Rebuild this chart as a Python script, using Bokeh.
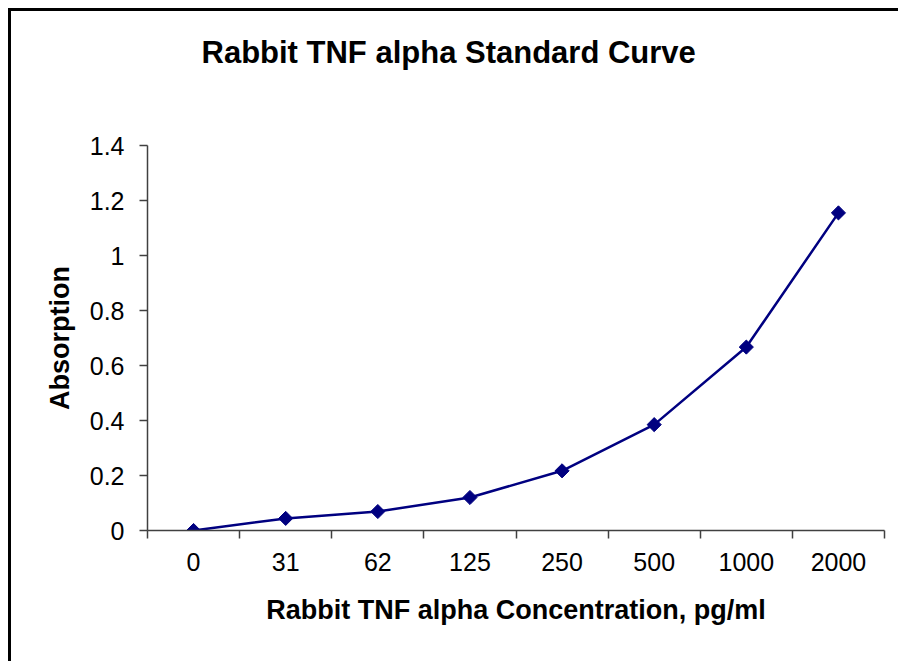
from bokeh.plotting import figure
from bokeh.models import FixedTicker, Range1d
from bokeh.embed import file_html
from bokeh.resources import INLINE

categories = ["0", "31", "62", "125", "250", "500", "1000", "2000"]
absorption = [0.0, 0.044, 0.069, 0.120, 0.217, 0.385, 0.667, 1.155]
y_ticks = [0, 0.2, 0.4, 0.6, 0.8, 1.0, 1.2, 1.4]
y_tick_labels = ["0", "0.2", "0.4", "0.6", "0.8", "1", "1.2", "1.4"]
title_text = "Rabbit TNF alpha Standard Curve"
x_label = "Rabbit TNF alpha Concentration, pg/ml"
y_label = "Absorption"

xs = [i + 0.5 for i in range(len(categories))]
FONT = "Liberation Sans"
AXIS_COLOR = "#404040"

p = figure(width=890, height=653, output_backend="svg", toolbar_location=None,
           x_range=Range1d(0, len(categories)), y_range=Range1d(0, 1.4),
           min_border_left=136, min_border_right=17, min_border_top=134,
           min_border_bottom=134)
p.margin = (8, 0, 0, 8)
p.styles = {"border-left": "3px solid black", "border-top": "3px solid black"}
p.xgrid.visible = False
p.ygrid.visible = False
p.outline_line_color = None
p.background_fill_color = "white"
p.border_fill_color = "white"

p.title.text = title_text
p.title.align = "left"
p.title.offset = 54
p.title.standoff = 10
p.title.padding = dict(left=0, right=0, top=0, bottom=71)
p.title.text_font = FONT
p.title.text_font_size = "31px"
p.title.text_font_style = "bold"
p.title.text_color = "black"

p.line(xs, absorption, line_color="#000080", line_width=2.5)
p.scatter(xs, absorption, marker="square", angle=0.785398, size=10,
          fill_color="#000080", line_color="#000080")

# x axis
xa = p.xaxis[0]
xa.ticker = FixedTicker(ticks=xs, minor_ticks=list(range(len(categories) + 1)))
xa.major_label_overrides = {x: c for x, c in zip(xs, categories)}
xa.major_tick_out = 0
xa.major_tick_in = 0
xa.minor_tick_out = 8
xa.minor_tick_in = 0
xa.minor_tick_line_color = AXIS_COLOR
xa.minor_tick_line_width = 1.5
xa.axis_line_color = AXIS_COLOR
xa.axis_line_width = 1.5
xa.major_label_text_font = FONT
xa.major_label_text_font_size = "25px"
xa.major_label_text_color = "black"
xa.major_label_standoff = 14
xa.axis_label = x_label
xa.axis_label_text_font = FONT
xa.axis_label_text_font_size = "27px"
xa.axis_label_text_font_style = "bold"
xa.axis_label_text_color = "black"
xa.axis_label_standoff = 21

# y axis
ya = p.yaxis[0]
ya.ticker = FixedTicker(ticks=y_ticks)
ya.major_label_overrides = {t: s for t, s in zip(y_ticks, y_tick_labels)}
ya.major_tick_out = 8
ya.major_tick_in = 0
ya.minor_tick_out = 0
ya.minor_tick_in = 0
ya.major_tick_line_color = AXIS_COLOR
ya.major_tick_line_width = 1.5
ya.axis_line_color = AXIS_COLOR
ya.axis_line_width = 1.5
ya.major_label_text_font = FONT
ya.major_label_text_font_size = "25px"
ya.major_label_text_color = "black"
ya.major_label_standoff = 15
ya.axis_label = y_label
ya.axis_label_text_font = FONT
ya.axis_label_text_font_size = "27px"
ya.axis_label_text_font_style = "bold"
ya.axis_label_text_color = "black"
ya.axis_label_standoff = 12

open("out.html", "w").write(file_html(p, INLINE))
